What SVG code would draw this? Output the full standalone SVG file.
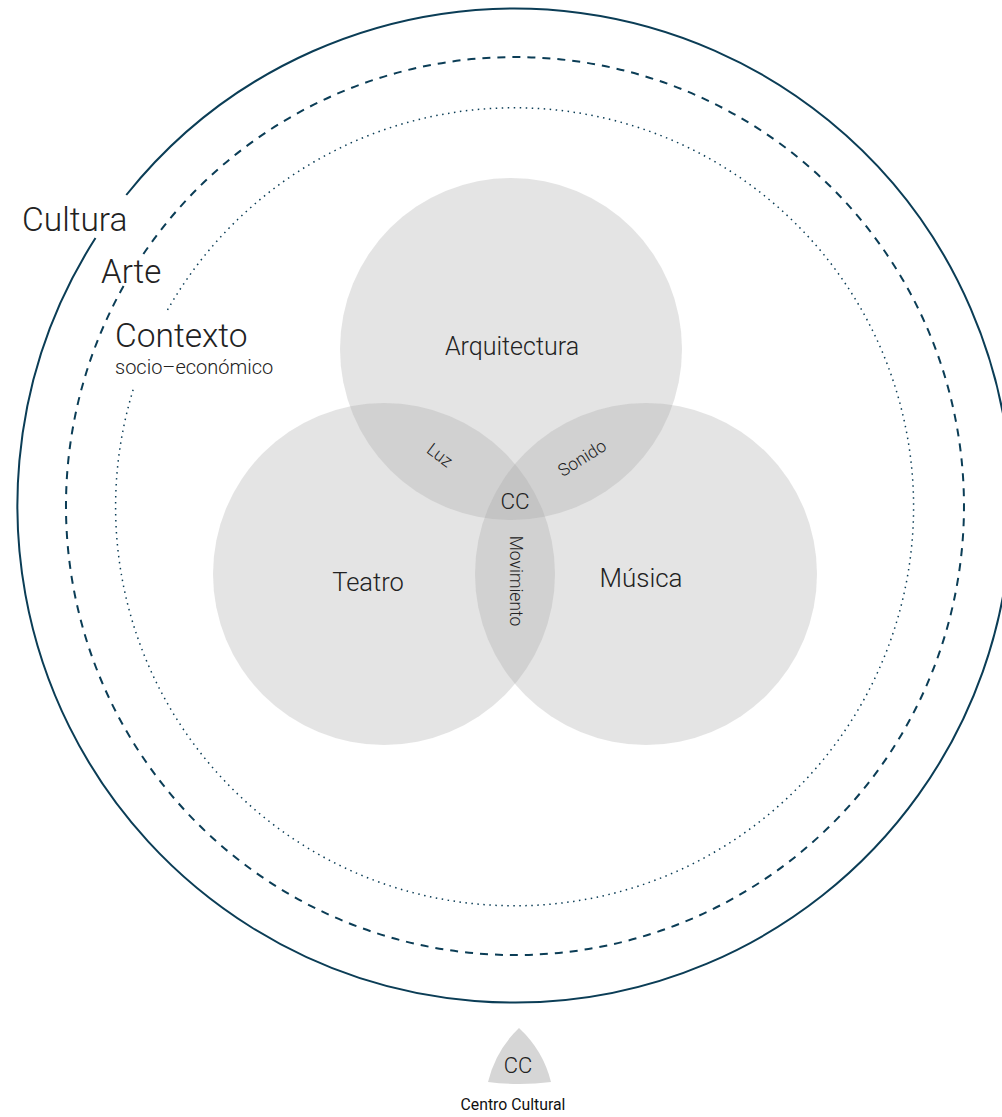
<svg xmlns="http://www.w3.org/2000/svg" width="1002" height="1117" viewBox="0 0 1002 1117">
<style>
.ring{fill:none;stroke:#0b3d56}
.venn{fill:#a4a4a4;fill-opacity:0.3}
.t{font-family:Roboto,"Liberation Sans",sans-serif;font-weight:300;fill:#222}
.m{text-anchor:middle}
.s{font-size:17.5px}
</style>
<rect width="1002" height="1117" fill="#fff"/>
<g id="rings">
<path id="cultura-ring" class="ring" stroke-width="2" d="M126.3,195 A497,497 0 1 1 95.5,238"/>
<path id="arte-ring" class="ring" stroke-width="2" stroke-dasharray="8 7" d="M143.4,254 A449,449 0 1 1 123.6,286"/>
<path id="contexto-ring" class="ring" stroke-width="1.5" stroke-dasharray="1.5 4.5" d="M167.5,310 A399,399 0 1 1 134,387"/>
</g>
<g id="ring-labels">
<text class="t" x="22" y="231" font-size="33.5">Cultura</text>
<text class="t" x="101" y="283" font-size="33">Arte</text>
<text class="t" x="115" y="347" font-size="33.5">Contexto</text>
<text class="t" x="115" y="374" font-size="20">socio–económico</text>
</g>
<g id="arquitectura"><circle class="venn" cx="511" cy="349" r="171"/><text class="t m" x="512" y="355" font-size="25">Arquitectura</text></g>
<g id="teatro"><circle class="venn" cx="384" cy="574" r="171"/><text class="t m" x="368" y="591" font-size="25.5">Teatro</text></g>
<g id="musica"><circle class="venn" cx="646" cy="574" r="171"/><text class="t m" x="641" y="587" font-size="26">Música</text></g>
<g id="luz"><text class="t m s" transform="translate(440,455) rotate(37)" dy="0.35em">Luz</text></g>
<g id="sonido"><text class="t m s" transform="translate(582,458) rotate(-32)" dy="0.35em">Sonido</text></g>
<g id="movimiento"><text class="t m s" transform="translate(516,581) rotate(90)" dy="0.35em">Movimiento</text></g>
<g id="cc"><text class="t m" x="515" y="509" font-size="22.5">CC</text></g>
<g id="legend">
<path d="M519,1028 A110,110 0 0 1 551,1082 A250,250 0 0 1 488,1082 A110,110 0 0 1 519,1028 Z" fill="#d6d6d6"/>
<text class="t m" x="518" y="1073" font-size="22">CC</text>
<text x="513" y="1110" font-size="15.8" text-anchor="middle" font-family="Roboto,'Liberation Sans',sans-serif" fill="#111">Centro Cultural</text>
</g>
<g id="connectors"></g>
</svg>
